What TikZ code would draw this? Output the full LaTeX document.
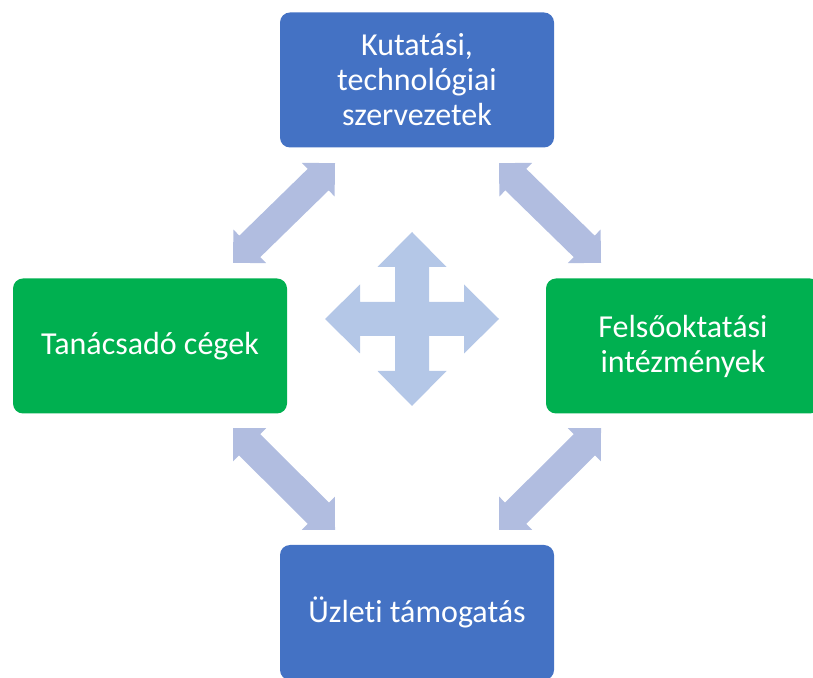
\documentclass[tikz,border=0pt]{standalone}
\usepackage{fontspec}
\setmainfont{Carlito}[Ligatures=NoCommon]
\usetikzlibrary{calc}

\definecolor{boxblue}{HTML}{4472C4}
\definecolor{boxgreen}{HTML}{00B050}
\definecolor{linkfill}{HTML}{B1BDE0}
\definecolor{crossfill}{HTML}{B4C7E7}

\tikzset{
  box/.style={rounded corners=10pt, minimum width=274pt, minimum height=135pt,
    inner sep=0pt, text=white, align=center, font=\fontsize{32}{35}\selectfont},
  bluebox/.style={box, fill=boxblue},
  greenbox/.style={box, fill=boxgreen},
}

% double headed block arrow between two tips
\newcommand{\headlen}{23.5pt}
\newcommand{\headhw}{23.5pt}
\newcommand{\shafthw}{15pt}
\newcommand{\blockarrow}[2]{%
  \fill[linkfill] (#1)
    -- ($(#1)!\headlen!(#2)!\headhw!90:(#2)$)
    -- ($(#1)!\headlen!(#2)!\shafthw!90:(#2)$)
    -- ($(#2)!\headlen!(#1)!\shafthw!-90:(#1)$)
    -- ($(#2)!\headlen!(#1)!\headhw!-90:(#1)$)
    -- (#2)
    -- ($(#2)!\headlen!(#1)!\headhw!90:(#1)$)
    -- ($(#2)!\headlen!(#1)!\shafthw!90:(#1)$)
    -- ($(#1)!\headlen!(#2)!\shafthw!-90:(#2)$)
    -- ($(#1)!\headlen!(#2)!\headhw!-90:(#2)$)
    -- cycle;}

\begin{document}
\begin{tikzpicture}[x=1pt,y=1pt]
\useasboundingbox (0,0) rectangle (813,677);

\node[bluebox] (kutatas) at (417,597) {Kutatási,\\technológiai\\szervezetek};
\node[greenbox] (tanacs) at (150,331) {Tanácsadó cégek};
\node[greenbox] (felso) at (683,331) {Felsőoktatási\\intézmények};
\node[bluebox] (uzleti) at (417,64.5) {Üzleti támogatás};

% arrow tips
\coordinate (kt) at ([shift={(-82,-15.5)}]kutatas.south);
\coordinate (kf) at ([shift={(82,-15.5)}]kutatas.south);
\coordinate (tk) at ([shift={(83,15.5)}]tanacs.north);
\coordinate (tu) at ([shift={(83,-14.5)}]tanacs.south);
\coordinate (fk) at ([shift={(-82,15.5)}]felso.north);
\coordinate (fu) at ([shift={(-82,-14.5)}]felso.south);
\coordinate (ut) at ([shift={(-82,15)}]uzleti.north);
\coordinate (uf) at ([shift={(82,15)}]uzleti.north);

\blockarrow{kt}{tk}
\blockarrow{kf}{fk}
\blockarrow{tu}{ut}
\blockarrow{fu}{uf}

% four way arrow in the middle
\coordinate (hub) at (412,358);
\fill[crossfill, shift={(hub)}] (0,87) -- (34.5,52) -- (17,52) -- (17,17)
  -- (52,17) -- (52,34.5) -- (87,0) -- (52,-34.5) -- (52,-17) -- (17,-17)
  -- (17,-52) -- (34.5,-52) -- (0,-87) -- (-34.5,-52) -- (-17,-52) -- (-17,-17)
  -- (-52,-17) -- (-52,-34.5) -- (-87,0) -- (-52,34.5) -- (-52,17) -- (-17,17)
  -- (-17,52) -- (-34.5,52) -- cycle;
\end{tikzpicture}
\end{document}
